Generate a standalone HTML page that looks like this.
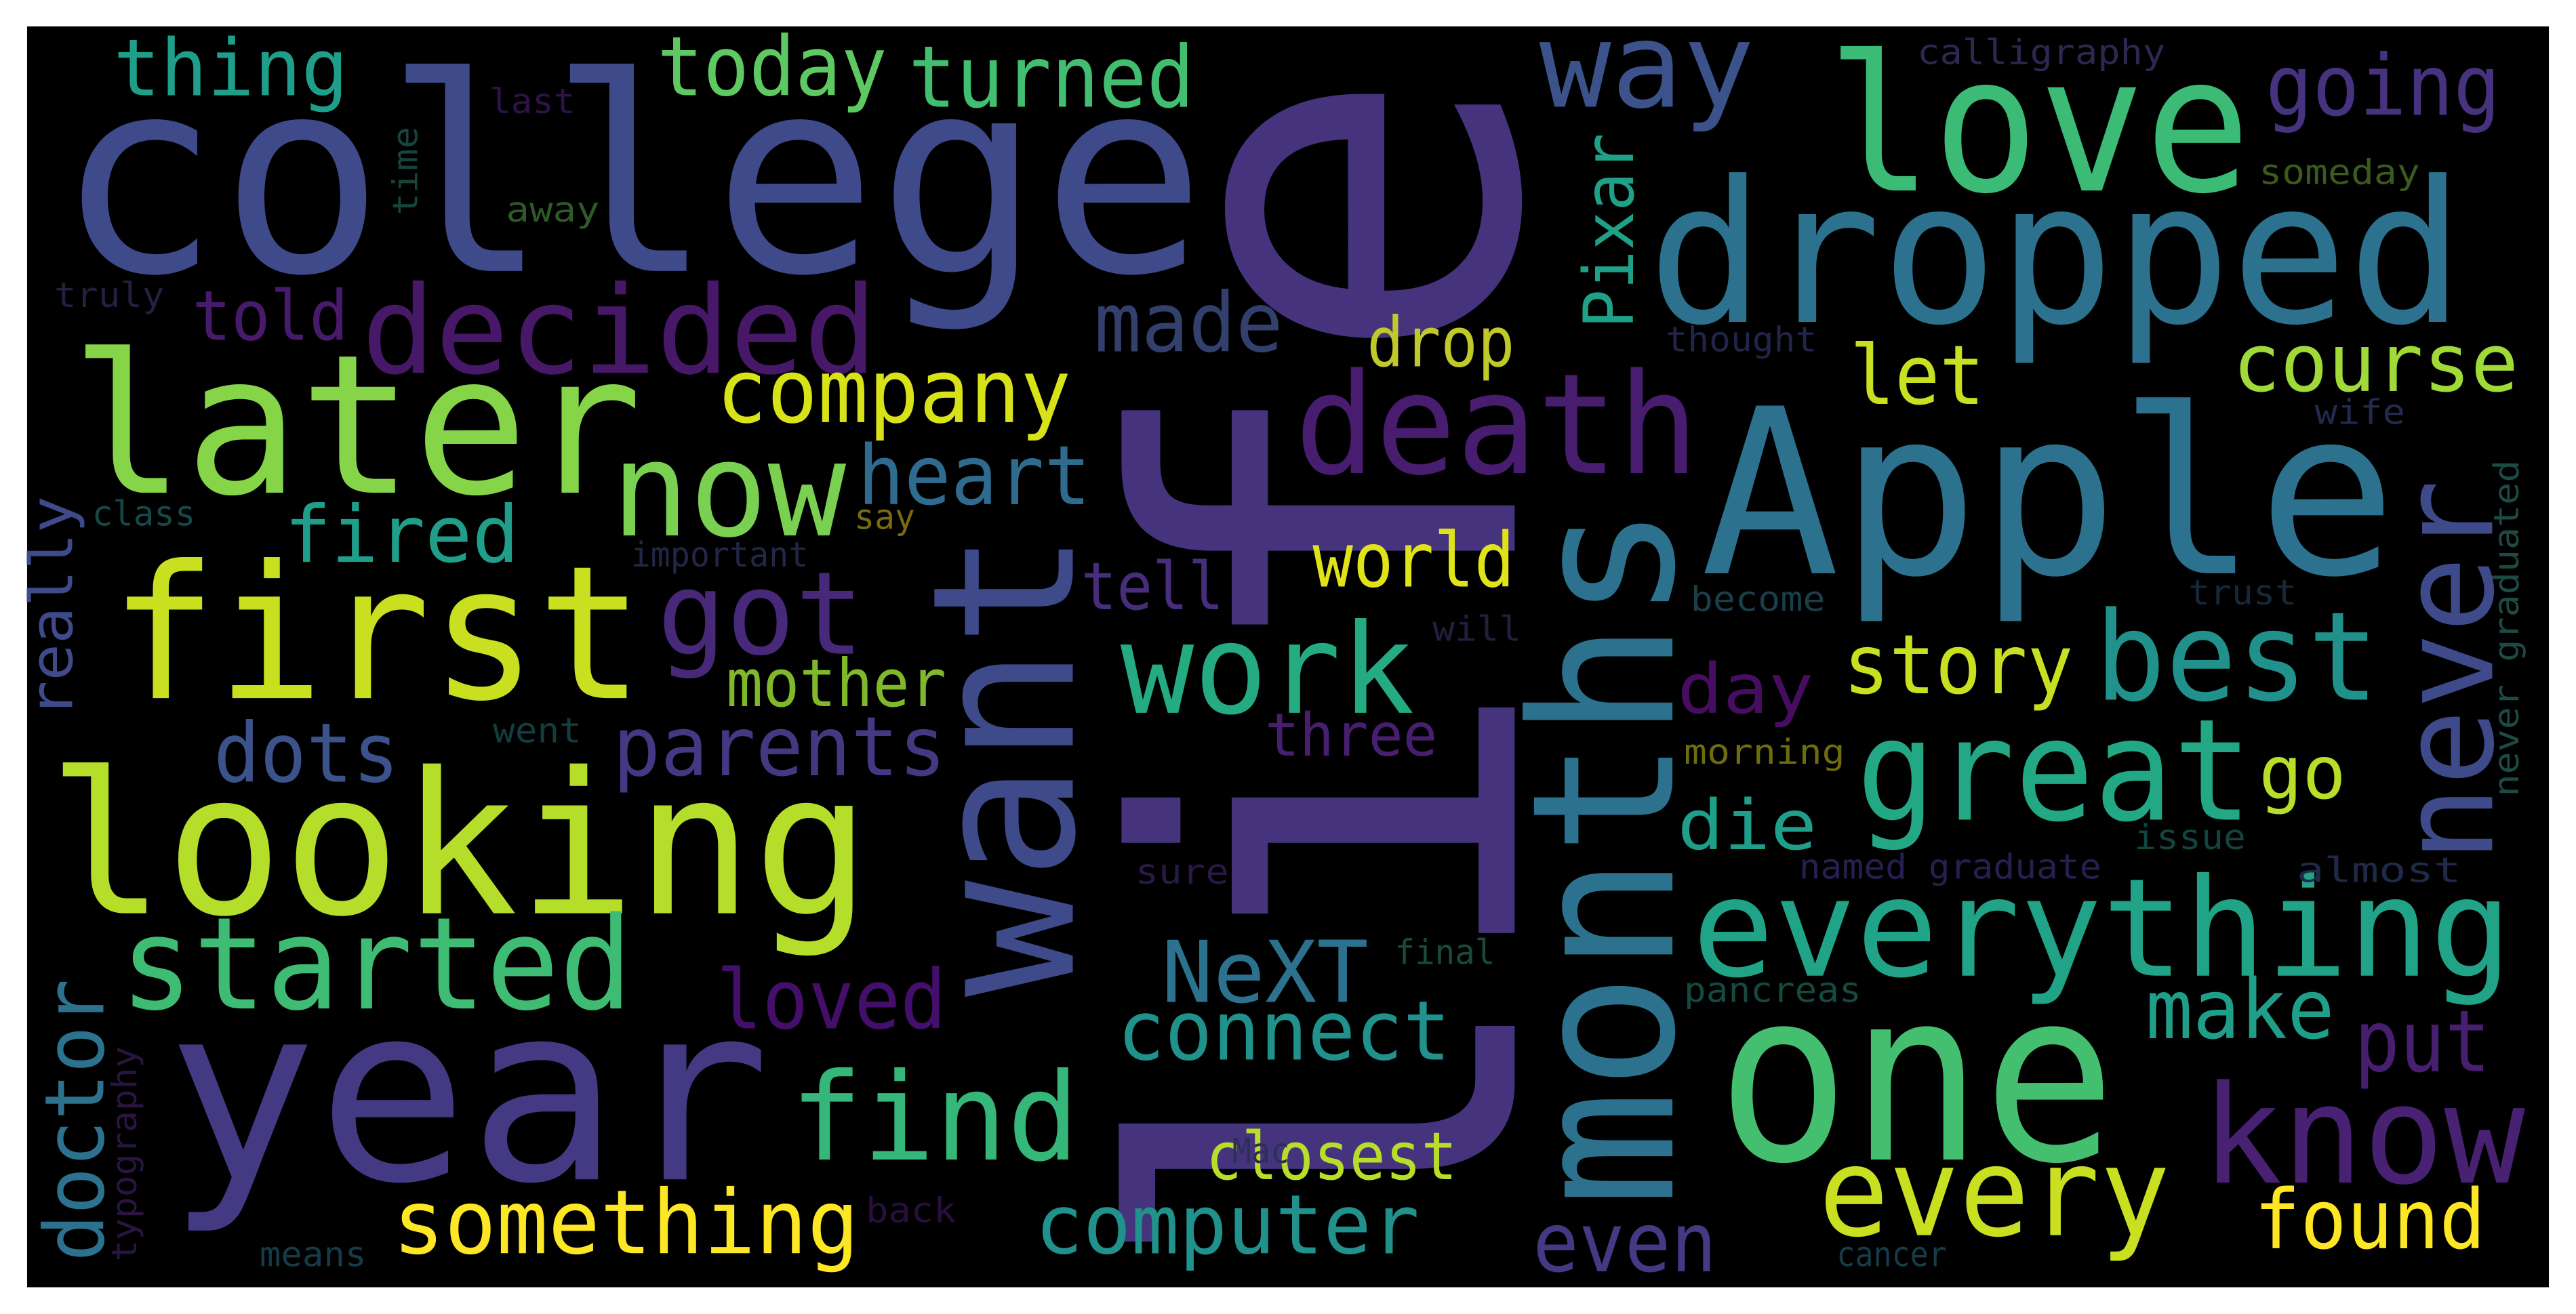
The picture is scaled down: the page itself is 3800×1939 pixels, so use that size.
<!DOCTYPE html>
<html><head><meta charset="utf-8"><style>
html,body{margin:0;padding:0;background:#fff;}
svg{display:block;}
text{font-family:"DejaVu Sans Mono","Liberation Mono",monospace;}
</style></head><body>
<svg width="3800" height="1939" viewBox="0 0 1568 800" preserveAspectRatio="none" xmlns="http://www.w3.org/2000/svg">
<rect x="16.5" y="16.1" width="1535" height="767.6" fill="#000"/>
<text x="34" y="165" font-size="165" textLength="700" lengthAdjust="spacingAndGlyphs" fill="#3e4a89">college</text>
<text transform="translate(922,780) rotate(-90)" font-size="315" textLength="741" lengthAdjust="spacingAndGlyphs" fill="#46337e">life</text>
<text x="101" y="718" font-size="150" textLength="368" lengthAdjust="spacingAndGlyphs" fill="#443983">year</text>
<text x="29" y="556" font-size="120" textLength="501" lengthAdjust="spacingAndGlyphs" fill="#b5de2b">looking</text>
<text x="67" y="425" font-size="113" textLength="325" lengthAdjust="spacingAndGlyphs" fill="#c8e020">first</text>
<text x="43" y="300" font-size="118" textLength="348" lengthAdjust="spacingAndGlyphs" fill="#86d549">later</text>
<text transform="translate(653,607) rotate(-90)" font-size="120" textLength="284" lengthAdjust="spacingAndGlyphs" fill="#3e4a89">want</text>
<text transform="translate(1018,735) rotate(-90)" font-size="120" textLength="428" lengthAdjust="spacingAndGlyphs" fill="#2c728e">months</text>
<text x="1035" y="349" font-size="140" textLength="424" lengthAdjust="spacingAndGlyphs" fill="#2c728e">Apple</text>
<text x="1003" y="196" font-size="120" textLength="497" lengthAdjust="spacingAndGlyphs" fill="#2c728e">dropped</text>
<text x="1112" y="116" font-size="115" textLength="258" lengthAdjust="spacingAndGlyphs" fill="#3bbb75">love</text>
<text x="937" y="65" font-size="72" textLength="131" lengthAdjust="spacingAndGlyphs" fill="#3b528b">way</text>
<text x="1045" y="706" font-size="145" textLength="243" lengthAdjust="spacingAndGlyphs" fill="#44bf70">one</text>
<text x="1340" y="720" font-size="83" textLength="197" lengthAdjust="spacingAndGlyphs" fill="#482173">know</text>
<text x="1030" y="594" font-size="83" textLength="499" lengthAdjust="spacingAndGlyphs" fill="#20a387">everything</text>
<text x="1130" y="499" font-size="86" textLength="241" lengthAdjust="spacingAndGlyphs" fill="#22a884">great</text>
<text transform="translate(1517,525) rotate(-90)" font-size="78" textLength="233" lengthAdjust="spacingAndGlyphs" fill="#3e4a89">never</text>
<text x="1275" y="426" font-size="75" textLength="173" lengthAdjust="spacingAndGlyphs" fill="#21918c">best</text>
<text x="1375" y="486" font-size="45" textLength="53" lengthAdjust="spacingAndGlyphs" fill="#b8de29">go</text>
<text x="1359" y="238" font-size="49" textLength="174" lengthAdjust="spacingAndGlyphs" fill="#a0da39">course</text>
<text x="1379" y="70" font-size="51" textLength="143" lengthAdjust="spacingAndGlyphs" fill="#46327e">going</text>
<text x="1126" y="246" font-size="50" textLength="82" lengthAdjust="spacingAndGlyphs" fill="#c8e020">let</text>
<text x="1122" y="422" font-size="50" textLength="140" lengthAdjust="spacingAndGlyphs" fill="#c8e020">story</text>
<text x="1306" y="632" font-size="50" textLength="115" lengthAdjust="spacingAndGlyphs" fill="#1f9e89">make</text>
<text x="1433" y="652" font-size="52" textLength="83" lengthAdjust="spacingAndGlyphs" fill="#481f70">put</text>
<text x="1107" y="752" font-size="75" textLength="214" lengthAdjust="spacingAndGlyphs" fill="#c8e020">every</text>
<text x="1372" y="760" font-size="50" textLength="141" lengthAdjust="spacingAndGlyphs" fill="#fde725">found</text>
<text x="933" y="774" font-size="50" textLength="112" lengthAdjust="spacingAndGlyphs" fill="#443983">even</text>
<text x="788" y="288" font-size="85" textLength="246" lengthAdjust="spacingAndGlyphs" fill="#481c6e">death</text>
<text x="220" y="227" font-size="74" textLength="314" lengthAdjust="spacingAndGlyphs" fill="#471768">decided</text>
<text x="372" y="326" font-size="80" textLength="143" lengthAdjust="spacingAndGlyphs" fill="#7ad151">now</text>
<text x="522" y="307" font-size="50" textLength="142" lengthAdjust="spacingAndGlyphs" fill="#2f6b8e">heart</text>
<text x="436" y="257" font-size="54" textLength="216" lengthAdjust="spacingAndGlyphs" fill="#d8e219">company</text>
<text x="666" y="214" font-size="50" textLength="115" lengthAdjust="spacingAndGlyphs" fill="#33406d">made</text>
<text x="832" y="223" font-size="42" textLength="90" lengthAdjust="spacingAndGlyphs" fill="#c0c92a">drop</text>
<text x="400" y="58" font-size="50" textLength="140" lengthAdjust="spacingAndGlyphs" fill="#5ec962">today</text>
<text x="553" y="65" font-size="52" textLength="174" lengthAdjust="spacingAndGlyphs" fill="#42be71">turned</text>
<text x="69" y="58" font-size="48" textLength="143" lengthAdjust="spacingAndGlyphs" fill="#1f9e89">thing</text>
<text x="117" y="207" font-size="42" textLength="95" lengthAdjust="spacingAndGlyphs" fill="#481a6c">told</text>
<text x="173" y="342" font-size="48" textLength="143" lengthAdjust="spacingAndGlyphs" fill="#1f9e89">fired</text>
<text x="400" y="398" font-size="70" textLength="126" lengthAdjust="spacingAndGlyphs" fill="#482878">got</text>
<text x="682" y="434" font-size="76" textLength="179" lengthAdjust="spacingAndGlyphs" fill="#25ab82">work</text>
<text x="799" y="357" font-size="46" textLength="123" lengthAdjust="spacingAndGlyphs" fill="#dfe318">world</text>
<text x="658" y="371" font-size="40" textLength="87" lengthAdjust="spacingAndGlyphs" fill="#472d7b">tell</text>
<text transform="translate(994,200) rotate(-90)" font-size="42" textLength="119" lengthAdjust="spacingAndGlyphs" fill="#1fa187">Pixar</text>
<text x="1021" y="434" font-size="42" textLength="83" lengthAdjust="spacingAndGlyphs" fill="#470d60">day</text>
<text x="442" y="430" font-size="40" textLength="134" lengthAdjust="spacingAndGlyphs" fill="#7fb82a">mother</text>
<text x="373" y="472" font-size="50" textLength="203" lengthAdjust="spacingAndGlyphs" fill="#453781">parents</text>
<text x="130" y="476" font-size="50" textLength="113" lengthAdjust="spacingAndGlyphs" fill="#3b528b">dots</text>
<text transform="translate(44,437) rotate(-90)" font-size="36" textLength="135" lengthAdjust="spacingAndGlyphs" fill="#3e4a89">really</text>
<text x="770" y="460" font-size="36" textLength="105" lengthAdjust="spacingAndGlyphs" fill="#481f70">three</text>
<text x="73" y="614" font-size="78" textLength="312" lengthAdjust="spacingAndGlyphs" fill="#3fbc73">started</text>
<text x="436" y="626" font-size="50" textLength="140" lengthAdjust="spacingAndGlyphs" fill="#440f6a">loved</text>
<text transform="translate(63,768) rotate(-90)" font-size="50" textLength="172" lengthAdjust="spacingAndGlyphs" fill="#2c728e">doctor</text>
<text x="239" y="763" font-size="54" textLength="284" lengthAdjust="spacingAndGlyphs" fill="#fde725">something</text>
<text x="481" y="706" font-size="74" textLength="176" lengthAdjust="spacingAndGlyphs" fill="#35b779">find</text>
<text x="1021" y="517" font-size="42" textLength="85" lengthAdjust="spacingAndGlyphs" fill="#1f9e89">die</text>
<text x="707" y="610" font-size="52" textLength="126" lengthAdjust="spacingAndGlyphs" fill="#2c728e">NeXT</text>
<text x="680" y="645" font-size="50" textLength="203" lengthAdjust="spacingAndGlyphs" fill="#21918c">connect</text>
<text x="734" y="718" font-size="40" textLength="153" lengthAdjust="spacingAndGlyphs" fill="#b8de29">closest</text>
<text x="630" y="763" font-size="50" textLength="234" lengthAdjust="spacingAndGlyphs" fill="#21918c">computer</text>
<g font-size="21">
<text x="1167" y="39" textLength="151" lengthAdjust="spacingAndGlyphs" fill="#2c2850">calligraphy</text>
<text x="298" y="69" textLength="52" lengthAdjust="spacingAndGlyphs" fill="#30124a">last</text>
<text transform="translate(254,131) rotate(-90)" textLength="54" lengthAdjust="spacingAndGlyphs" fill="#17453c">time</text>
<text x="308" y="135" textLength="57" lengthAdjust="spacingAndGlyphs" fill="#2e5a28">away</text>
<text x="33" y="187" textLength="67" lengthAdjust="spacingAndGlyphs" fill="#232040">truly</text>
<text x="56" y="320" textLength="63" lengthAdjust="spacingAndGlyphs" fill="#164848">class</text>
<text x="520" y="322" textLength="37" lengthAdjust="spacingAndGlyphs" fill="#7a6a12">say</text>
<text x="384" y="345" textLength="108" lengthAdjust="spacingAndGlyphs" fill="#232646">important</text>
<text x="300" y="452" textLength="54" lengthAdjust="spacingAndGlyphs" fill="#123e40">went</text>
<text transform="translate(83,768) rotate(-90)" textLength="131" lengthAdjust="spacingAndGlyphs" fill="#2a1540">typography</text>
<text x="158" y="771" textLength="65" lengthAdjust="spacingAndGlyphs" fill="#143c48">means</text>
<text x="527" y="744" textLength="55" lengthAdjust="spacingAndGlyphs" fill="#2a0f3e">back</text>
<text x="691" y="538" textLength="57" lengthAdjust="spacingAndGlyphs" fill="#281a45">sure</text>
<text x="750" y="708" textLength="35" lengthAdjust="spacingAndGlyphs" fill="#2c2f58">Mac</text>
<text x="849" y="587" textLength="61" lengthAdjust="spacingAndGlyphs" fill="#1a4a3e">final</text>
<text x="1025" y="610" textLength="108" lengthAdjust="spacingAndGlyphs" fill="#164a40">pancreas</text>
<text x="1118" y="771" textLength="67" lengthAdjust="spacingAndGlyphs" fill="#163c48">cancer</text>
<text x="1299" y="517" textLength="68" lengthAdjust="spacingAndGlyphs" fill="#124440">issue</text>
<text x="1398" y="537" textLength="100" lengthAdjust="spacingAndGlyphs" fill="#1f2a4a">almost</text>
<text x="1095" y="535" textLength="184" lengthAdjust="spacingAndGlyphs" fill="#262050">named graduate</text>
<text x="1025" y="465" textLength="98" lengthAdjust="spacingAndGlyphs" fill="#6d6d10">morning</text>
<text x="1029" y="372" textLength="82" lengthAdjust="spacingAndGlyphs" fill="#1c3d4a">become</text>
<text x="872" y="390" textLength="54" lengthAdjust="spacingAndGlyphs" fill="#20203e">will</text>
<text x="1332" y="368" textLength="66" lengthAdjust="spacingAndGlyphs" fill="#16283a">trust</text>
<text x="1409" y="258" textLength="55" lengthAdjust="spacingAndGlyphs" fill="#222a50">wife</text>
<text x="1014" y="214" textLength="92" lengthAdjust="spacingAndGlyphs" fill="#222448">thought</text>
<text x="1375" y="112" textLength="98" lengthAdjust="spacingAndGlyphs" fill="#3a5a1e">someday</text>
<text transform="translate(1533,485) rotate(-90)" textLength="205" lengthAdjust="spacingAndGlyphs" fill="#1e4a44">never graduated</text>
</g>
</svg>
</body></html>
